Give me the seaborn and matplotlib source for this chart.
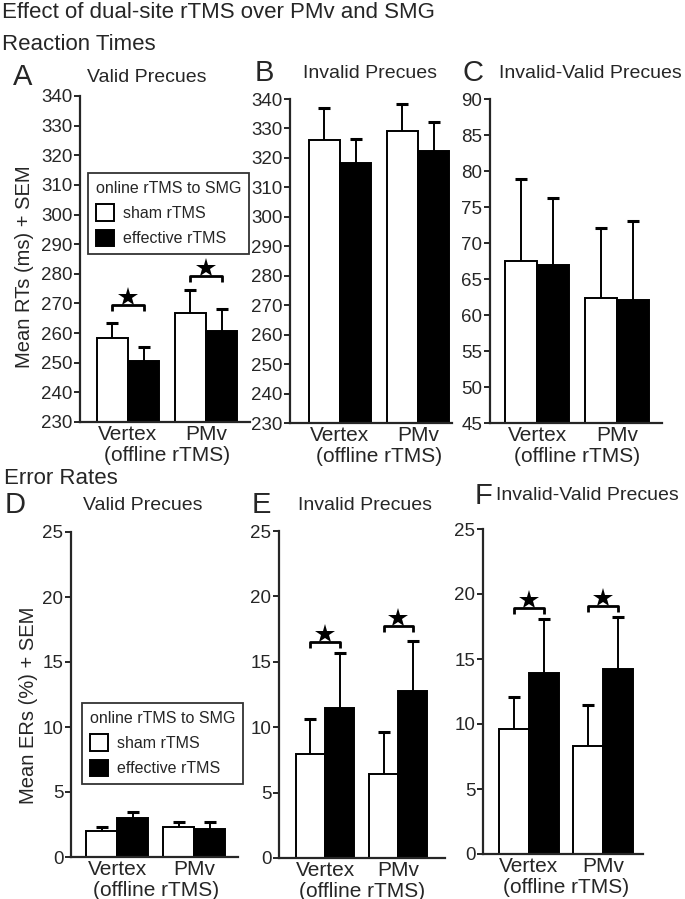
import matplotlib
matplotlib.use("Agg")
import matplotlib.pyplot as plt
import seaborn as sns
import pandas as pd
import numpy as np
from matplotlib.patches import Patch

sns.set_style("ticks")
plt.rcParams['font.family'] = ['Liberation Sans', 'DejaVu Sans']

# ---------------- data ----------------
groups = ["Vertex", "PMv"]
conditions = ["sham rTMS", "effective rTMS"]

rt_valid_sham = [258.3, 266.8]
rt_valid_sham_sem = [5.0, 7.9]
rt_valid_eff = [250.7, 260.8]
rt_valid_eff_sem = [4.6, 7.2]

rt_invalid_sham = [326.2, 329.3]
rt_invalid_sham_sem = [10.7, 9.1]
rt_invalid_eff = [318.2, 322.5]
rt_invalid_eff_sem = [8.3, 9.6]

rt_diff_sham = [67.5, 62.4]
rt_diff_sham_sem = [11.4, 9.65]
rt_diff_eff = [67.0, 62.1]
rt_diff_eff_sem = [9.3, 11.0]

er_valid_sham = [2.0, 2.3]
er_valid_sham_sem = [0.28, 0.37]
er_valid_eff = [3.0, 2.13]
er_valid_eff_sem = [0.5, 0.57]

er_invalid_sham = [7.97, 6.45]
er_invalid_sham_sem = [2.63, 3.22]
er_invalid_eff = [11.5, 12.8]
er_invalid_eff_sem = [4.16, 3.8]

er_diff_sham = [9.6, 8.3]
er_diff_sham_sem = [2.5, 3.15]
er_diff_eff = [13.9, 14.2]
er_diff_eff_sem = [4.2, 4.0]

# significance bracket heights (None = no bracket)
sig_A = [269.4, 279.3]
sig_E = [16.55, 17.7]
sig_F = [18.9, 19.1]

rt_ticks = list(range(230, 341, 10))
rtdiff_ticks = list(range(45, 91, 5))
er_ticks = list(range(0, 26, 5))

W, H = 685, 899
fig = plt.figure(figsize=(W / 100, H / 100), dpi=100)


def rect(l, r, t, b):
    return [l / W, 1 - b / H, (r - l) / W, (b - t) / H]


def fx(x):
    return x / W


def fy(y):
    return 1 - y / H


panels = [
    ("A", "Valid Precues", (80, 250, 96, 422), rt_valid_sham, rt_valid_sham_sem,
     rt_valid_eff, rt_valid_eff_sem, rt_ticks, (-0.615, 1.565), sig_A, (13, 77), (147, 77)),
    ("B", "Invalid Precues", (290, 452, 99, 423), rt_invalid_sham, rt_invalid_sham_sem,
     rt_invalid_eff, rt_invalid_eff_sem, rt_ticks, (-0.64, 1.437), None, (255, 73), (370, 73)),
    ("C", "Invalid-Valid Precues", (490, 662, 99, 423), rt_diff_sham, rt_diff_sham_sem,
     rt_diff_eff, rt_diff_eff_sem, rtdiff_ticks, (-0.59, 1.56), None, (463, 73), (590, 73)),
    ("D", "Valid Precues", (71, 238, 532, 857), er_valid_sham, er_valid_sham_sem,
     er_valid_eff, er_valid_eff_sem, er_ticks, (-0.6, 1.57), None, (5, 505), (143, 505)),
    ("E", "Invalid Precues", (279, 445, 531, 858), er_invalid_sham, er_invalid_sham_sem,
     er_invalid_eff, er_invalid_eff_sem, er_ticks, (-0.63, 1.64), sig_E, (252, 505), (365, 505)),
    ("F", "Invalid-Valid Precues", (483, 643, 529, 854), er_diff_sham, er_diff_sham_sem,
     er_diff_eff, er_diff_eff_sem, er_ticks, (-0.62, 1.54), sig_F, (475, 496), (587, 496)),
]

palette = {"sham rTMS": "white", "effective rTMS": "black"}

for (letter, title, r, sham, sham_sem, eff, eff_sem, ticks, xlim, sig, lpos, tpos) in panels:
    ax = fig.add_axes(rect(*r))
    df = pd.DataFrame({
        "site": groups * 2,
        "cond": [conditions[0]] * 2 + [conditions[1]] * 2,
        "value": list(sham) + list(eff),
    })
    sns.barplot(data=df, x="site", y="value", hue="cond", order=groups,
                hue_order=conditions, palette=palette, edgecolor="black",
                linewidth=1.4, errorbar=None, legend=False, ax=ax, width=0.8,
                saturation=1)
    bar_conts = [list(c) for c in ax.containers]
    # error bars (+SEM only): stem and top cap
    for ci, cont in enumerate(bar_conts):
        sems = sham_sem if ci == 0 else eff_sem
        vals = sham if ci == 0 else eff
        xs = [b.get_x() + b.get_width() / 2 for b in cont]
        tops = [v + s for v, s in zip(vals, sems)]
        ax.errorbar(xs, vals, yerr=[np.zeros(len(vals)), sems], fmt="none",
                    ecolor="black", elinewidth=1.4, capsize=0, zorder=3)
        ax.plot(xs, tops, ls="none", marker="_", markersize=8, mew=2.2,
                color="black", zorder=3)
    ax.set_ylim(ticks[0], ticks[-1])
    ax.set_yticks(ticks)
    ax.set_xlim(*xlim)
    ax.set_xlabel("")
    ax.set_ylabel("")
    sns.despine(ax=ax)
    for s in ["left", "bottom"]:
        ax.spines[s].set_linewidth(1.6)
    ax.tick_params(axis="y", labelsize=13.5, length=4, width=1.4, pad=1.5)
    ax.tick_params(axis="x", labelsize=15, length=0, pad=2)
    ax.annotate("(offline rTMS)", xy=(0.5, 0), xycoords=("data", "axes fraction"),
                xytext=(0, -17), textcoords="offset points", ha="center", va="top",
                fontsize=15)
    # significance brackets
    if sig is not None:
        bars0, bars1 = bar_conts[0], bar_conts[1]
        yr = ticks[-1] - ticks[0]
        ppx = yr / ax.bbox.height
        for gi, h in enumerate(sig):
            x0 = bars0[gi].get_x() + bars0[gi].get_width() / 2
            x1 = bars1[gi].get_x() + bars1[gi].get_width() / 2
            d = 6 * ppx
            ax.plot([x0, x0, x1, x1], [h - d, h, h, h - d], color="black",
                    lw=2.0, solid_capstyle="butt", clip_on=False)
            ax.plot([(x0 + x1) / 2], [h + 8 * ppx], marker="*", color="black",
                    markeredgewidth=0, markersize=15, clip_on=False)
    fig.text(fx(lpos[0]), fy(lpos[1]), letter, fontsize=21, ha="left", va="center")
    fig.text(fx(tpos[0]), fy(tpos[1]), title, fontsize=14, ha="center", va="center")

    if letter in ("A", "D"):
        handles = [Patch(facecolor="white", edgecolor="black", linewidth=1.4),
                   Patch(facecolor="black", edgecolor="black", linewidth=1.4)]
        anchor = (88, 173) if letter == "A" else (82, 703)
        leg = ax.legend(handles, conditions, title="online rTMS to SMG",
                        loc="upper left", bbox_to_anchor=(fx(anchor[0]), fy(anchor[1])),
                        bbox_transform=fig.transFigure, fontsize=11.5,
                        title_fontsize=11.5, frameon=True, fancybox=False,
                        edgecolor="black", handlelength=1.15, handleheight=1.2,
                        handletextpad=0.55, labelspacing=0.55, borderpad=0.5,
                        borderaxespad=0)
        leg.get_frame().set_linewidth(1.3)
        leg._legend_box.align = "left"
        leg._legend_box.sep = 6

# titles and axis labels
fig.text(fx(2), fy(12), "Effect of dual-site rTMS over PMv and SMG", fontsize=16,
         ha="left", va="center")
fig.text(fx(2), fy(45), "Reaction Times", fontsize=16, ha="left", va="center")
fig.text(fx(4), fy(478), "Error Rates", fontsize=16, ha="left", va="center")
fig.text(fx(25), fy(267), "Mean RTs (ms) + SEM", fontsize=14.5, rotation=90,
         ha="center", va="center")
fig.text(fx(29), fy(705), "Mean ERs (%) + SEM", fontsize=14.5, rotation=90,
         ha="center", va="center")

fig.savefig("out.png", dpi=100)
